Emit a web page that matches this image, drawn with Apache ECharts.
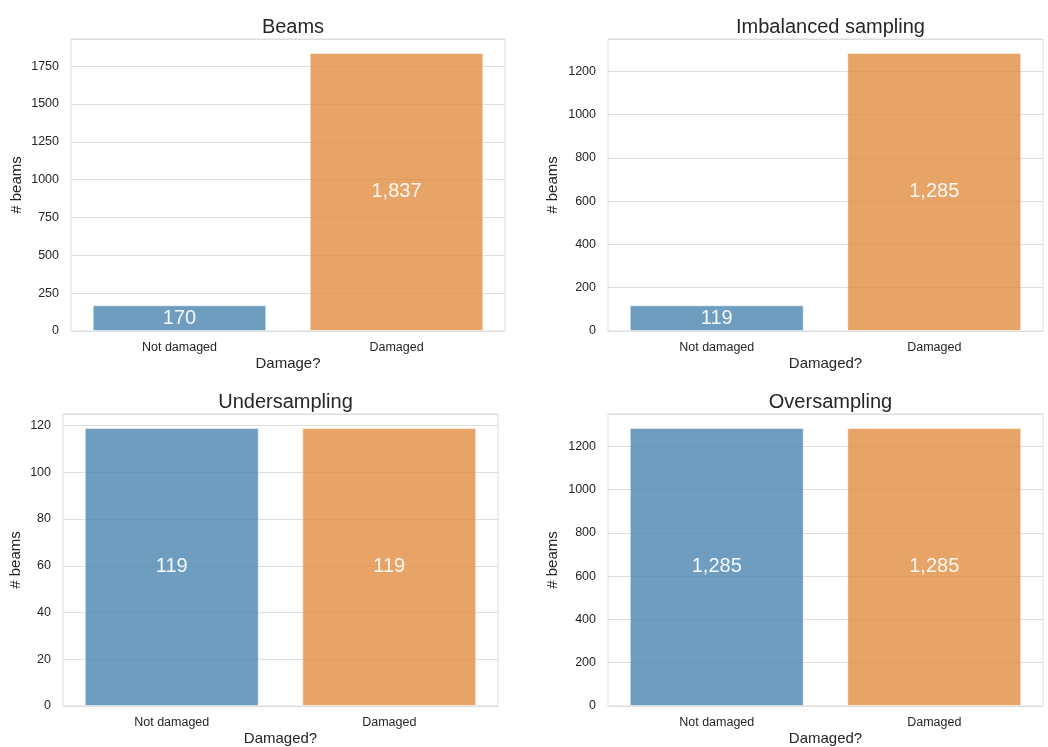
<!DOCTYPE html>
<html>
<head>
<meta charset="utf-8">
<script src="https://cdn.jsdelivr.net/npm/echarts@6/dist/echarts.min.js"></script>
<style>
  html, body { margin: 0; padding: 0; background: #ffffff; }
  #chart { width: 1048px; height: 747px; }
</style>
</head>
<body>
<div id="chart"></div>
<script>
// Class labels shared by every panel
const categories = ['Not damaged', 'Damaged'];

// Beam counts per class for each dataset
const beamsCounts = [170, 1837];
const imbalancedCounts = [119, 1285];
const underCounts = [119, 119];
const overCounts = [1285, 1285];

// Panel titles, x-axis names and y tick steps
const panelTitles = ['Beams', 'Imbalanced sampling', 'Undersampling', 'Oversampling'];
const xNames = ['Damage?', 'Damaged?', 'Damaged?', 'Damaged?'];
const yName = '# beams';
const yIntervals = [250, 200, 20, 200];

const FONT = '"Liberation Sans", Arial, sans-serif';
const TEXT = '#262626';
const GRID_LINE = '#dddddd';
const barColors = ['rgba(74,133,176,0.8)', 'rgba(226,141,65,0.8)'];

const panels = [beamsCounts, imbalancedCounts, underCounts, overCounts];

// Plot rectangles in pixels
const rects = [
  { left: 71, top: 39, width: 434, height: 292 },
  { left: 608, top: 39, width: 435, height: 292 },
  { left: 63, top: 414, width: 435, height: 292 },
  { left: 608, top: 414, width: 435, height: 292 }
];
const yNameGaps = [47, 48, 40, 48];
const titleTops = [12, 12, 387, 387];

const fmt = v => v.toLocaleString('en-US');

const option = {
  backgroundColor: '#ffffff',
  animation: false,
  textStyle: { fontFamily: FONT },
  title: panelTitles.map((t, i) => ({
    text: t,
    left: rects[i].left + rects[i].width / 2,
    top: titleTops[i],
    textAlign: 'center',
    textStyle: { fontFamily: FONT, fontSize: 20, fontWeight: 'normal', color: TEXT }
  })),
  grid: rects.map(r => ({
    left: r.left, top: r.top, width: r.width, height: r.height,
    show: true, borderColor: GRID_LINE, borderWidth: 1, backgroundColor: 'transparent',
    containLabel: false
  })),
  xAxis: panels.map((d, i) => ({
    type: 'category',
    gridIndex: i,
    data: categories,
    name: xNames[i],
    nameLocation: 'middle',
    nameGap: 25,
    nameTextStyle: { fontFamily: FONT, fontSize: 15, color: TEXT },
    axisLine: { show: false },
    axisTick: { show: false },
    axisLabel: { fontFamily: FONT, fontSize: 12.5, color: TEXT, margin: 10 },
    splitLine: { show: false }
  })),
  yAxis: panels.map((d, i) => ({
    type: 'value',
    gridIndex: i,
    min: 0,
    max: Math.max(...d) * 1.05,
    interval: yIntervals[i],
    name: yName,
    nameLocation: 'middle',
    nameGap: yNameGaps[i],
    nameTextStyle: { fontFamily: FONT, fontSize: 15, color: TEXT },
    axisLine: { show: false },
    axisTick: { show: false },
    axisLabel: {
      fontFamily: FONT, fontSize: 12.5, color: TEXT, margin: 12,
      formatter: v => (v % yIntervals[i] === 0 ? String(v) : '')
    },
    splitLine: { show: true, lineStyle: { color: GRID_LINE, width: 1 } }
  })),
  series: panels.map((d, i) => ({
    type: 'bar',
    xAxisIndex: i,
    yAxisIndex: i,
    barWidth: '80%',
    data: d.map((v, j) => ({
      value: v,
      itemStyle: {
        color: barColors[j],
        borderColor: 'rgba(255,255,255,0.55)',
        borderWidth: 1
      }
    })),
    label: {
      show: true,
      position: 'inside',
      formatter: p => fmt(p.value),
      fontFamily: FONT,
      fontSize: 20,
      color: 'rgba(255,255,255,0.92)'
    }
  }))
};

const chart = echarts.init(document.getElementById('chart'), null, { renderer: 'canvas' });
chart.setOption(option);
</script>
</body>
</html>
